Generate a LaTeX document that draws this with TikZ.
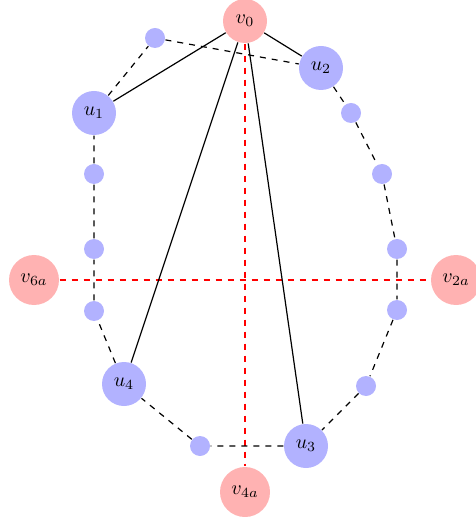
\documentclass[tikz,border=0pt]{standalone}
\usepackage{amsmath}
\usetikzlibrary{positioning}

\begin{document}
\begin{tikzpicture}[
    x=0.5pt, y=-0.5pt,
    every path/.style={semithick},
    bignode/.style={circle, fill=blue!30, minimum size=22pt, inner sep=0pt},
    dotnode/.style={circle, fill=blue!30, minimum size=10pt, inner sep=0pt},
    apex/.style={circle, fill=red!30, minimum size=22pt, inner sep=0pt},
    axisnode/.style={circle, fill=red!30, minimum size=25pt, inner sep=0pt},
    chain/.style={dashed},
    axis/.style={dashed, red}
]
\useasboundingbox (0,0) rectangle (475,517);

% Apex and axis ends
\node[apex] (v0) at (245, 21) {$v_0$};
\node[axisnode] (v6a) at (34, 280) {$v_{6a}$};
\node[axisnode] (v2a) at (456, 280) {$v_{2a}$};
\node[axisnode] (v4a) at (245, 492) {$v_{4a}$};

% Main vertices
\node[bignode] (u1) at (94, 113) {$u_1$};
\node[bignode] (u2) at (321, 68) {$u_2$};
\node[bignode] (u3) at (306, 446) {$u_3$};
\node[bignode] (u4) at (124, 384) {$u_4$};

% Subdivision points
\node[dotnode] (a1) at (155, 38) {};
\node[dotnode] (b1) at (351, 113) {};
\node[dotnode] (b2) at (382, 174) {};
\node[dotnode] (b3) at (397, 249) {};
\node[dotnode] (b4) at (397, 310) {};
\node[dotnode] (b5) at (366, 386) {};
\node[dotnode] (c1) at (200, 446) {};
\node[dotnode] (d1) at (94, 311) {};
\node[dotnode] (d2) at (94, 249) {};
\node[dotnode] (d3) at (94, 174) {};

% Red axes
\draw[axis] (v6a) -- (v2a);
\draw[axis] (v0) -- (v4a);

% Dashed cycle
\draw[chain] (u1) -- (a1) -- (u2);
\draw[chain] (u2) -- (b1) -- (b2) -- (b3) -- (b4) -- (b5) -- (u3);
\draw[chain] (u3) -- (c1) -- (u4);
\draw[chain] (u4) -- (d1) -- (d2) -- (d3) -- (u1);

% Spokes from v0
\draw (v0) -- (u1);
\draw (v0) -- (u2);
\draw (v0) -- (u3);
\draw (v0) -- (u4);

\end{tikzpicture}
\end{document}
